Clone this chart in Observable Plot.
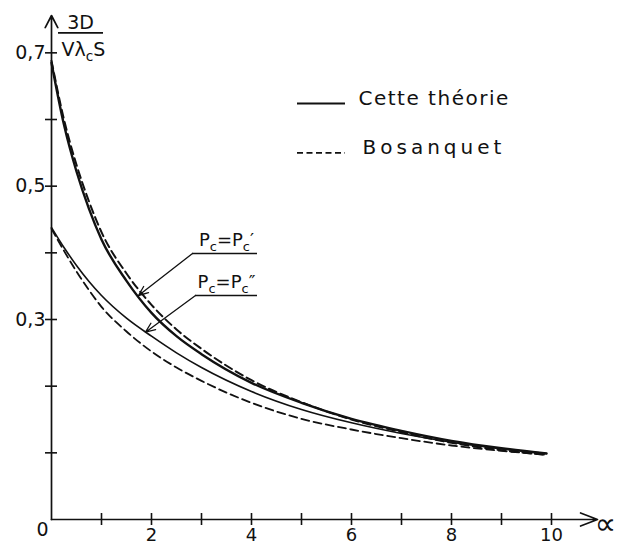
<!DOCTYPE html>
<html><head><meta charset="utf-8">
<script src="https://cdn.jsdelivr.net/npm/d3@7"></script>
<script src="https://cdn.jsdelivr.net/npm/@observablehq/plot@0.6"></script>
<style>body{margin:0;background:#fff}</style>
</head><body><div id="chart"></div>
<script>
// alpha values (x)
const alpha = [0, 0.25, 0.5, 0.75, 1, 1.5, 2, 2.5, 3, 4, 5, 6, 7, 8, 9, 9.9];
// Pc = Pc'
const cetteP1 = [0.685, 0.592, 0.522, 0.466, 0.420, 0.358, 0.310, 0.275, 0.248, 0.205, 0.175, 0.151, 0.133, 0.118, 0.107, 0.099];
const bosP1   = [0.688, 0.600, 0.532, 0.477, 0.431, 0.369, 0.322, 0.285, 0.256, 0.209, 0.176, 0.150, 0.131, 0.115, 0.104, 0.097];
// Pc = Pc''
const cetteP2 = [0.438, 0.408, 0.381, 0.357, 0.336, 0.302, 0.275, 0.250, 0.228, 0.192, 0.165, 0.145, 0.129, 0.116, 0.106, 0.099];
const bosP2   = [0.436, 0.403, 0.372, 0.344, 0.319, 0.282, 0.252, 0.228, 0.208, 0.175, 0.151, 0.135, 0.122, 0.111, 0.103, 0.097];

const xTicks = [1, 2, 3, 4, 5, 6, 7, 8, 9, 10];
const xLabels = [2, 4, 6, 8, 10];
const yTicks = [0.1, 0.2, 0.3, 0.4, 0.5, 0.6, 0.7];
const yLabels = [0.3, 0.5, 0.7];
const xMax = 10.92, yMax = 0.756;

const toRows = (vals) => alpha.map((a, i) => ({alpha: a, v: vals[i]}));
const fmt = d => String(d).replace(".", ",");
const ink = "#111";
const font = "DejaVu Sans";

const chart = Plot.plot({
  width: 636, height: 545,
  marginLeft: 51, marginRight: 39, marginTop: 15, marginBottom: 26,
  x: {domain: [0, xMax], axis: null},
  y: {domain: [0, yMax], axis: null},
  style: {fontFamily: font, background: "white", color: ink, overflow: "visible"},
  marks: [
    // axes
    Plot.arrow([{}], {x1: 0, y1: 0, x2: 0, y2: yMax, stroke: ink, strokeWidth: 1.7, headLength: 12, headAngle: 55}),
    Plot.arrow([{}], {x1: 0, y1: 0, x2: xMax, y2: 0, stroke: ink, strokeWidth: 1.7, headLength: 16, headAngle: 42}),
    Plot.ruleX(xTicks, {x: d => d, y1: 0, y2: 0, insetTop: -6, insetBottom: -6, stroke: ink, strokeWidth: 1.6}),
    Plot.ruleY(yTicks, {y: d => d, x1: 0, x2: 0, insetLeft: -6, insetRight: -6, stroke: ink, strokeWidth: 1.6}),
    Plot.text(xLabels, {x: d => d, y: 0, text: d => String(d), dy: 16, fontSize: 18, fill: ink}),
    Plot.text(yLabels, {x: 0, y: d => d, text: fmt, dx: -6, textAnchor: "end", fontSize: 19, fill: ink}),
    Plot.text(["0"], {x: 0, y: 0, text: d => d, dx: -9, dy: 10, fontSize: 19, fill: ink}),
    Plot.text(["∝"], {x: 11.08, y: 0, text: d => d, dy: 5, fontSize: 30, fill: ink}),
    // y-axis label: 3D / (V λ_c S)
    Plot.text(["3D"], {x: 0.58, y: 0.745, text: d => d, fontSize: 19, fill: ink}),
    Plot.ruleY([0.730], {y: d => d, x1: 0.14, x2: 1.04, stroke: ink, strokeWidth: 1.6}),
    Plot.text(["Vλ_cS"], {x: 0.64, y: 0.705, text: d => d, fontSize: 19, fill: ink}),
    // curves
    Plot.line(toRows(bosP1), {x: "alpha", y: "v", stroke: ink, strokeWidth: 2, strokeDasharray: "8,4.5", curve: "monotone-x"}),
    Plot.line(toRows(bosP2), {x: "alpha", y: "v", stroke: ink, strokeWidth: 1.8, strokeDasharray: "8,4.5", curve: "monotone-x"}),
    Plot.line(toRows(cetteP1), {x: "alpha", y: "v", stroke: ink, strokeWidth: 2.4, curve: "monotone-x"}),
    Plot.line(toRows(cetteP2), {x: "alpha", y: "v", stroke: ink, strokeWidth: 1.6, curve: "monotone-x"}),
    // annotations
    Plot.ruleY([0.399], {y: d => d, x1: 2.82, x2: 4.12, stroke: ink, strokeWidth: 1.5}),
    Plot.arrow([{}], {x1: 2.82, y1: 0.399, x2: 1.74, y2: 0.336, stroke: ink, strokeWidth: 1.3, headLength: 12, headAngle: 45}),
    Plot.text(["P_c=P_c′"], {x: 3.5, y: 0.411, text: d => d, lineAnchor: "bottom", fontSize: 18, fill: ink}),
    Plot.ruleY([0.336], {y: d => d, x1: 2.88, x2: 4.12, stroke: ink, strokeWidth: 1.5}),
    Plot.arrow([{}], {x1: 2.88, y1: 0.336, x2: 1.88, y2: 0.281, stroke: ink, strokeWidth: 1.3, headLength: 12, headAngle: 45}),
    Plot.text(["P_c=P_c″"], {x: 3.5, y: 0.348, text: d => d, lineAnchor: "bottom", fontSize: 18, fill: ink}),
    // legend
    Plot.ruleY([0.624], {y: d => d, x1: 4.92, x2: 5.88, stroke: ink, strokeWidth: 1.8}),
    Plot.text(["Cette théorie"], {x: 6.14, y: 0.631, text: d => d, textAnchor: "start", fontSize: 20, fill: ink}),
    Plot.ruleY([0.550], {y: d => d, x1: 4.92, x2: 5.88, stroke: ink, strokeWidth: 1.8, strokeDasharray: "6,3.5"}),
    Plot.text(["Bosanquet"], {x: 6.22, y: 0.558, text: d => d, textAnchor: "start", fontSize: 20, fill: ink})
  ]
});

// subscripts: "_c" -> lowered small c
d3.select(chart).selectAll("text").each(function () {
  const t = this.textContent;
  if (!t.includes("_")) return;
  const parts = t.split(/_(.)/);
  this.textContent = "";
  const sel = d3.select(this);
  let raise = false;
  parts.forEach((p, i) => {
    if (p === "") return;
    if (i % 2 === 1) {
      sel.append("tspan").attr("dy", 5).attr("font-size", "72%").text(p);
      raise = true;
    } else {
      const ts = sel.append("tspan").text(p);
      if (raise) { ts.attr("dy", -5); raise = false; }
    }
  });
});
d3.select(chart).selectAll("text").filter(function(){return this.textContent==="Cette théorie";}).attr("letter-spacing", "1.5px");
d3.select(chart).selectAll("text").filter(function(){return this.textContent==="Bosanquet";}).attr("letter-spacing", "4px");
document.getElementById("chart").appendChild(chart);
</script>
</body></html>
